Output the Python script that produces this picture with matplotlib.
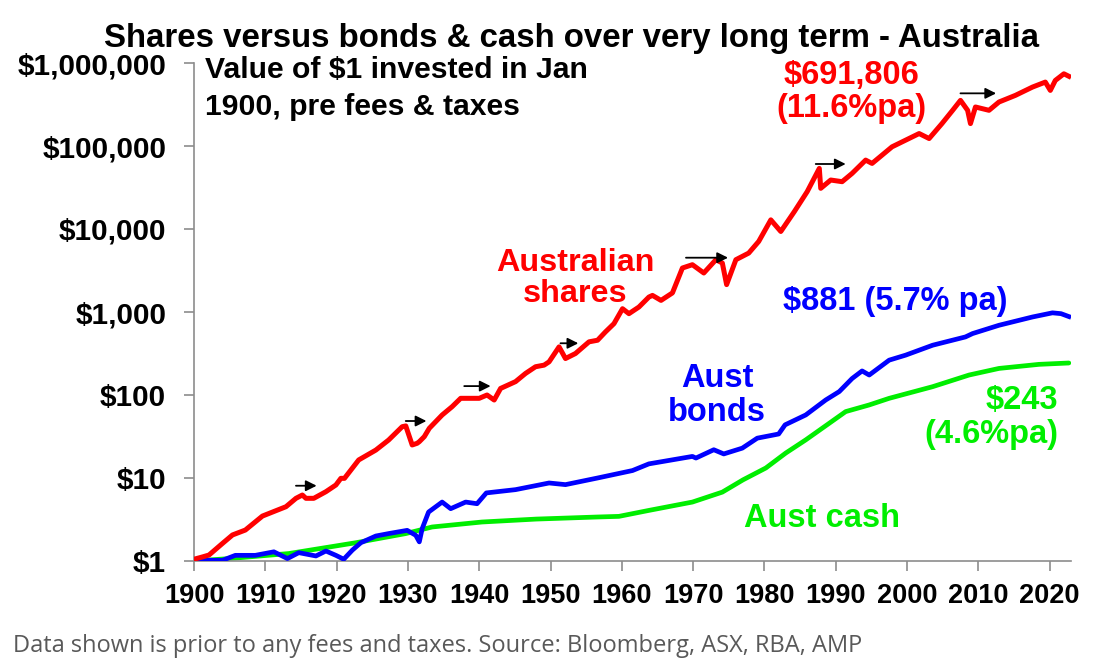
import matplotlib
matplotlib.use("Agg")
import matplotlib.pyplot as plt

# Value of $1 invested in Jan 1900
shares_year = [1900.0, 1901.2, 1902.1, 1904.0, 1905.4, 1907.2, 1909.6, 1912.9, 1914.3, 1915.2,
               1915.7, 1916.8, 1918.5, 1919.9, 1920.6, 1921.1, 1923.1, 1925.5, 1927.3, 1929.2,
               1929.7, 1930.6, 1931.3, 1931.6, 1932.3, 1933.0, 1934.8, 1936.2, 1937.4, 1940.0,
               1941.1, 1942.1, 1943.0, 1945.1, 1946.5, 1947.9, 1949.1, 1949.8, 1951.2, 1952.1,
               1953.5, 1955.4, 1956.6, 1957.7, 1958.9, 1960.1, 1961.0, 1962.4, 1963.8, 1964.3,
               1965.5, 1967.1, 1968.5, 1969.9, 1971.5, 1973.2, 1974.1, 1974.7, 1976.0, 1977.8,
               1979.2, 1980.9, 1982.3, 1984.2, 1986.0, 1987.7, 1987.9, 1989.3, 1990.9, 1992.3,
               1994.2, 1995.1, 1997.9, 1999.8, 2001.7, 2003.1, 2004.9, 2006.4, 2007.5, 2008.5,
               2008.9, 2009.6, 2011.5, 2012.9, 2015.2, 2017.6, 2019.4, 2020.1, 2020.8, 2022.0,
               2022.7]
shares_val = [1.05, 1.12, 1.18, 1.63, 2.06, 2.36, 3.48, 4.51, 5.69, 6.24,
              5.69, 5.69, 6.84, 8.24, 9.91, 9.9, 16.5, 21.7, 28.7, 41.5,
              42.4, 25.0, 26.2, 27.4, 31.5, 39.7, 57.4, 72.3, 91.2, 91.2,
              100, 87, 120, 145, 182, 219, 229, 251, 380, 275,
              316, 437, 457, 575, 724, 1096, 955, 1148, 1514, 1585,
              1380, 1698, 3388, 3715, 2951, 4266, 3890, 2138, 4266, 5129,
              7079, 12882, 9333, 16218, 28184, 53703, 30903, 38905, 37154, 46774,
              67608, 61660, 97724, 117490, 141254, 123027, 186209, 269153, 354813, 269153,
              186209, 295121, 269153, 338844, 407380, 512861, 588844, 467735, 616595, 741310,
              691806]

bonds_year = [1900.0, 1904.0, 1905.8, 1908.6, 1911.2, 1913.1, 1914.7, 1917.1, 1918.5, 1919.9,
              1921.0, 1922.2, 1923.4, 1925.5, 1927.3, 1929.9, 1931.1, 1931.6, 1932.0, 1932.9,
              1934.8, 1936.0, 1938.1, 1939.7, 1941.0, 1945.1, 1949.8, 1952.1, 1956.6, 1961.5,
              1963.8, 1969.9, 1970.4, 1972.9, 1974.3, 1976.9, 1979.0, 1982.0, 1982.9, 1985.8,
              1988.6, 1990.5, 1992.3, 1993.7, 1994.7, 1997.5, 1999.8, 2003.6, 2008.2, 2009.2,
              2012.9, 2017.6, 2020.4, 2021.6, 2022.7]
bonds_val = [1.02, 1.02, 1.17, 1.17, 1.29, 1.07, 1.26, 1.15, 1.32, 1.17,
             1.05, 1.35, 1.66, 2.0, 2.14, 2.34, 2.04, 1.70, 2.45, 3.89,
             5.13, 4.27, 5.13, 4.90, 6.61, 7.24, 8.71, 8.32, 10.0, 12.3,
             14.8, 18.2, 17.4, 21.9, 19.5, 22.9, 30.2, 33.9, 43.7, 57.5,
             87.1, 110, 158, 195, 174, 263, 302, 398, 501, 550,
             692, 871, 977, 955, 881]

cash_year = [1900.0, 1905.0, 1913.3, 1922.7, 1929.7, 1933.4, 1940.4, 1948.0, 1956.6, 1959.6,
             1963.8, 1969.9, 1974.1, 1977.0, 1980.2, 1983.0, 1985.8, 1989.1, 1991.4, 1994.7,
             1997.5, 2003.6, 2008.7, 2012.9, 2018.5, 2022.7]
cash_val = [1.0, 1.07, 1.23, 1.66, 2.14, 2.57, 2.95, 3.2, 3.39, 3.45,
            4.07, 5.13, 6.76, 9.5, 13.2, 20.0, 28.8, 45.7, 63.1, 75.9,
            91.2, 126, 174, 209, 234, 243]

# sideways market periods marked with arrows: start year, end year, level
arrow_start = [1914.3, 1929.7, 1937.9, 1951.4, 1969.0, 1987.2, 2007.5]
arrow_end = [1917.2, 1932.6, 1941.6, 1953.9, 1974.9, 1991.4, 2012.5]
arrow_level = [8.07, 48.6, 128, 420, 4510, 60700, 431000]

ytick_vals = [1, 10, 100, 1000, 10000, 100000, 1000000]
ytick_labels = ["$1", "$10", "$100", "$1,000", "$10,000", "$100,000", "$1,000,000"]
xtick_vals = list(range(1900, 2021, 10))

RED = "#ff0000"
BLUE = "#0000ff"
GREEN = "#00ee00"

plt.rcParams["font.family"] = ["Liberation Sans", "DejaVu Sans"]

W, H = 1113, 666
fig = plt.figure(figsize=(W / 100, H / 100), dpi=100)
ax = fig.add_axes([194 / W, 1 - 561 / H, (1071 - 194) / W, (561 - 63) / H])

ax.plot(cash_year, cash_val, color=GREEN, lw=3.4, solid_capstyle="round", zorder=2)
ax.plot(bonds_year, bonds_val, color=BLUE, lw=3.4, solid_joinstyle="round", zorder=3)
ax.plot(shares_year, shares_val, color=RED, lw=3.6, solid_joinstyle="round", zorder=4)

for x0, x1, lvl in zip(arrow_start, arrow_end, arrow_level):
    ax.annotate("", xy=(x1, lvl), xytext=(x0, lvl),
                arrowprops=dict(arrowstyle="-|>", color="black", lw=1.3,
                                mutation_scale=16, shrinkA=0, shrinkB=0), zorder=5)

ax.set_yscale("log")
ax.set_ylim(1, 1000000)
ax.set_xlim(1900, 2023)
ax.set_yticks(ytick_vals)
ax.set_yticklabels(ytick_labels)
ax.yaxis.set_minor_locator(matplotlib.ticker.NullLocator())
ax.set_xticks(xtick_vals)
ax.set_xticklabels([str(y) for y in xtick_vals])

for s in ["top", "right"]:
    ax.spines[s].set_visible(False)
for s in ["left", "bottom"]:
    ax.spines[s].set_color("#8c8c8c")
    ax.spines[s].set_linewidth(1.2)
ax.tick_params(axis="y", direction="out", length=7, width=1.2, color="#8c8c8c",
               pad=13, labelsize=21.4)
ax.tick_params(axis="x", direction="out", length=7, width=1.2, color="#8c8c8c",
               pad=9, labelsize=19.5)
for lab in ax.get_xticklabels() + ax.get_yticklabels():
    lab.set_fontweight("bold")


def ftext(px, py, s, **kw):
    fig.text(px / W, 1 - py / H, s, va="baseline", fontweight="bold", **kw)


ftext(572, 47, "Shares versus bonds & cash over very long term - Australia",
      ha="center", fontsize=23.8, color="black")
ftext(205, 78, "Value of $1 invested in Jan", ha="left", fontsize=21.7, color="black")
ftext(205, 115, "1900, pre fees & taxes", ha="left", fontsize=21.7, color="black")

ftext(851, 84, "$691,806", ha="center", fontsize=23.5, color=RED)
ftext(851, 117, "(11.6%pa)", ha="center", fontsize=23.5, color=RED)
ftext(575, 271, "Australian", ha="center", fontsize=23.3, color=RED)
ftext(575, 302, "shares", ha="center", fontsize=23.3, color=RED)

ftext(895, 310, "$881 (5.7% pa)", ha="center", fontsize=23.5, color=BLUE)
ftext(717, 387, "Aust", ha="center", fontsize=23.5, color=BLUE)
ftext(717, 421, "bonds", ha="center", fontsize=23.5, color=BLUE)

ftext(1058, 409, "$243", ha="right", fontsize=23.5, color=GREEN)
ftext(1058, 443, "(4.6%pa)", ha="right", fontsize=23.5, color=GREEN)
ftext(822, 527, "Aust cash", ha="center", fontsize=23.5, color=GREEN)

fig.text(13 / W, 1 - 652 / H,
         "Data shown is prior to any fees and taxes. Source: Bloomberg, ASX, RBA, AMP",
         ha="left", va="baseline", fontsize=17, color="#595959",
         family=["Open Sans", "DejaVu Sans"])

fig.savefig("out.png", dpi=100)
